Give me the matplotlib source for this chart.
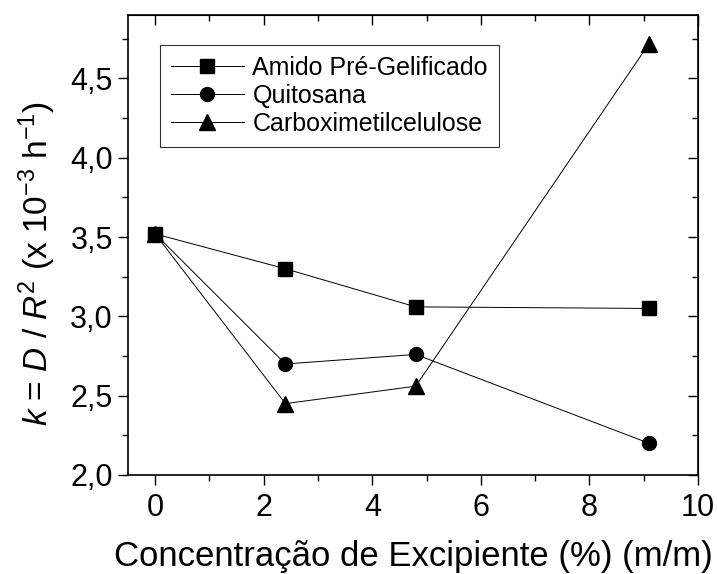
import matplotlib
matplotlib.use("Agg")
import matplotlib.pyplot as plt
from matplotlib.ticker import MultipleLocator

plt.rcParams['font.family'] = ['Liberation Sans', 'DejaVu Sans']
plt.rcParams['mathtext.fontset'] = 'custom'
plt.rcParams['mathtext.rm'] = 'Liberation Sans'
plt.rcParams['mathtext.it'] = 'Liberation Sans:italic'

# excipient concentration (% m/m) and rate constant k (x 10^-3 h^-1)
conc = [0.0, 2.4, 4.8, 9.1]
k_amido = [3.52, 3.30, 3.06, 3.05]
k_quitosana = [3.52, 2.70, 2.76, 2.20]
k_cmc = [3.52, 2.45, 2.56, 4.72]
labels = ['Amido Pré-Gelificado', 'Quitosana', 'Carboximetilcelulose']

fig = plt.figure(figsize=(7.17, 5.74), dpi=100)
ax = fig.add_axes([128 / 717, 1 - 475 / 574, (698 - 128) / 717, (475 - 15) / 574])

style = dict(color='black', lw=0.7, markersize=10)
ax.plot(conc, k_amido, marker='s', label=labels[0], **style)
ax.plot(conc, k_quitosana, marker='o', label=labels[1], **style)
ax.plot(conc, k_cmc, marker='^', label=labels[2], markersize=11,
        color='black', lw=0.7)

ax.set_xlim(-0.5, 10)
ax.set_ylim(2.0, 4.9)
ax.xaxis.set_major_locator(MultipleLocator(2))
ax.xaxis.set_minor_locator(MultipleLocator(1))
ax.yaxis.set_major_locator(MultipleLocator(0.5))
ax.yaxis.set_minor_locator(MultipleLocator(0.25))
ax.yaxis.set_major_formatter(lambda v, p: f'{v:.1f}'.replace('.', ','))

ax.tick_params(which='both', direction='out', width=1, labelsize=22)
ax.tick_params(which='major', length=7)
ax.tick_params(which='minor', length=4.5)
ax.tick_params(axis='x', pad=6)
ax.tick_params(axis='y', pad=4)
for s in ax.spines.values():
    s.set_linewidth(1.2)

# inward ticks on the top and right edges
top = ax.secondary_xaxis('top')
top.xaxis.set_major_locator(MultipleLocator(2))
top.xaxis.set_minor_locator(MultipleLocator(1))
top.tick_params(which='both', direction='in', labeltop=False, width=1)
top.tick_params(which='major', length=7)
top.tick_params(which='minor', length=4.5)
right = ax.secondary_yaxis('right')
right.yaxis.set_major_locator(MultipleLocator(0.5))
right.yaxis.set_minor_locator(MultipleLocator(0.25))
right.tick_params(which='both', direction='in', labelright=False, width=1)
right.tick_params(which='major', length=7)
right.tick_params(which='minor', length=4.5)

ax.set_xlabel('Concentração de Excipiente (%) (m/m)', fontsize=25, labelpad=12)
ax.set_ylabel(r'$k$ = $D$ / $R^2$ (x 10$^{-3}$ h$^{-1}$)', fontsize=24)
ax.yaxis.set_label_coords(-0.122, 0.46)

leg = ax.legend(loc='upper left', bbox_to_anchor=(0.056, 0.935), fontsize=18,
                frameon=True, fancybox=False, edgecolor='black',
                handlelength=2.9, handletextpad=0.35, borderpad=0.45,
                labelspacing=0.15, borderaxespad=0)
leg.get_frame().set_linewidth(0.8)

fig.savefig('out.png', dpi=100)
